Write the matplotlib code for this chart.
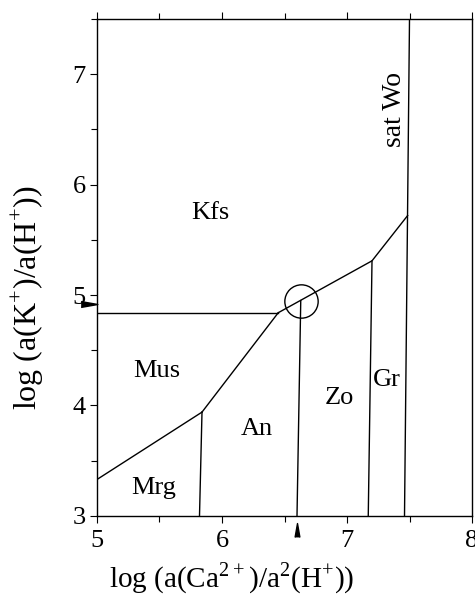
import numpy as np
import matplotlib
matplotlib.use("Agg")
import matplotlib.pyplot as plt
from matplotlib.ticker import MultipleLocator

plt.rcParams['font.family'] = ['Liberation Serif', 'DejaVu Serif']
plt.rcParams['mathtext.fontset'] = 'custom'
plt.rcParams['mathtext.rm'] = 'Liberation Serif'

# phase boundaries, log a(Ca2+)/a2(H+) vs log a(K+)/a(H+)
mrg_mus_x = [5.0, 5.84]
mrg_mus_y = [3.33, 3.94]
mrg_an_x = [5.82, 5.84]
mrg_an_y = [3.0, 3.94]
mus_an_x = [5.84, 6.45]
mus_an_y = [3.94, 4.84]
kfs_mus_x = [5.0, 6.45]
kfs_mus_y = [4.84, 4.84]
kfs_upper_x = [6.45, 7.20, 7.485]
kfs_upper_y = [4.84, 5.31, 5.72]
an_zo_x = [6.60, 6.63]
an_zo_y = [3.0, 4.95]
zo_gr_x = [7.17, 7.20]
zo_gr_y = [3.0, 5.31]
sat_wo_x = [7.46, 7.50]
sat_wo_y = [3.0, 7.5]

# invariant point and its projections onto the axes
inv_x, inv_y = 6.63, 4.95
mark_x, mark_y = 6.60, 4.92

fields = ["Kfs", "Mus", "Mrg", "An", "Zo", "Gr"]
field_x = [5.91, 5.48, 5.45, 6.28, 6.94, 7.32]
field_y = [5.74, 4.31, 3.25, 3.79, 4.07, 4.23]

fig = plt.figure(figsize=(4.75, 5.99), dpi=100)
ax = fig.add_axes([0.2042, 0.1387, 0.7895, 0.8296])

lw = 1.0
for xs, ys in [(mrg_mus_x, mrg_mus_y), (mrg_an_x, mrg_an_y), (mus_an_x, mus_an_y),
               (kfs_mus_x, kfs_mus_y), (kfs_upper_x, kfs_upper_y), (an_zo_x, an_zo_y),
               (zo_gr_x, zo_gr_y), (sat_wo_x, sat_wo_y)]:
    ax.plot(xs, ys, color='black', lw=lw)

# open circle around the invariant point
ax.plot([inv_x], [inv_y], marker='o', markersize=24, mfc='none', mec='black',
        mew=lw, linestyle='none')

for name, x, y in zip(fields, field_x, field_y):
    ax.text(x, y, name, fontsize=19, ha='center', va='center')
ax.text(7.38, 6.68, "sat Wo", fontsize=20, ha='center', va='center', rotation=90)

# little pointers on the axes
tri_right = [(-1, -0.35), (1, 0), (-1, 0.35)]
tri_up = [(-0.35, -1), (0, 1), (0.35, -1)]
ax.plot([4.935], [mark_y], marker=tri_right, markersize=12, color='black',
        clip_on=False, linestyle='none')
ax.plot([mark_x], [2.87], marker=tri_up, markersize=10, color='black',
        clip_on=False, linestyle='none')

ax.set_xlim(5, 8)
ax.set_ylim(3, 7.5)
ax.xaxis.set_major_locator(MultipleLocator(1))
ax.xaxis.set_minor_locator(MultipleLocator(0.5))
ax.yaxis.set_major_locator(MultipleLocator(1))
ax.yaxis.set_minor_locator(MultipleLocator(0.5))
ax.tick_params(which='both', direction='out', top=True, labelsize=19, width=0.8)
ax.tick_params(which='major', length=5)
ax.tick_params(which='minor', length=4)
ax.tick_params(axis='x', pad=5)
ax.tick_params(axis='y', pad=3)
for s in ax.spines.values():
    s.set_linewidth(1.0)

fig.text(232 / 475, 1 - 578 / 599, r"log (a(Ca$^{2+}$)/a$^{2}$(H$^{+}$))",
         fontsize=21, ha='center', va='center')
fig.text(28 / 475, 1 - 298 / 599, r"log (a(K$^{+}$)/a(H$^{+}$))",
         fontsize=23, ha='center', va='center', rotation=90)

fig.savefig("out.png", dpi=100)
